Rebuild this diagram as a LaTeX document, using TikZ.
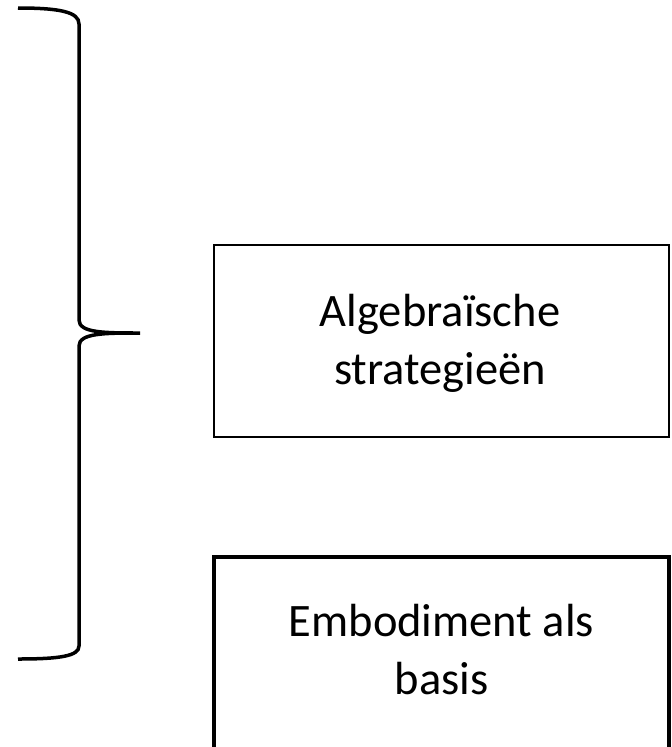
\documentclass[tikz,border=0pt]{standalone}
\usepackage{fontspec}
\setmainfont{Carlito}
\begin{document}
\begin{tikzpicture}[x=1pt,y=-1pt,
  brace/.style={line width=3.5pt,line cap=butt},
  box/.style={draw,line width=#1,inner sep=0pt},
  lbl/.style={align=center,font=\fontsize{46.5}{58}\selectfont,inner sep=0pt}]
\useasboundingbox (0,0) rectangle (672,747);
\draw[brace] (18,8) .. controls (60,8) and (79,12) .. (79,24) -- (79,320)
  .. controls (79,333) and (105,333) .. (140,333)
  .. controls (105,333) and (79,333) .. (79,346) -- (79,646)
  .. controls (79,656) and (60,659) .. (18,659);
\node[box=2.5pt,minimum width=455pt,minimum height=192pt] (b1) at (441.5,341) {};
\node[box=3.5pt,minimum width=455pt,minimum height=210pt] (b2) at (441.5,662) {};
\node[lbl] (t1) at (440,343) {Algebraïsche\\strategieën};
\node[lbl] (t2) at (441.5,650) {Embodiment als\\basis};
\end{tikzpicture}
\end{document}
